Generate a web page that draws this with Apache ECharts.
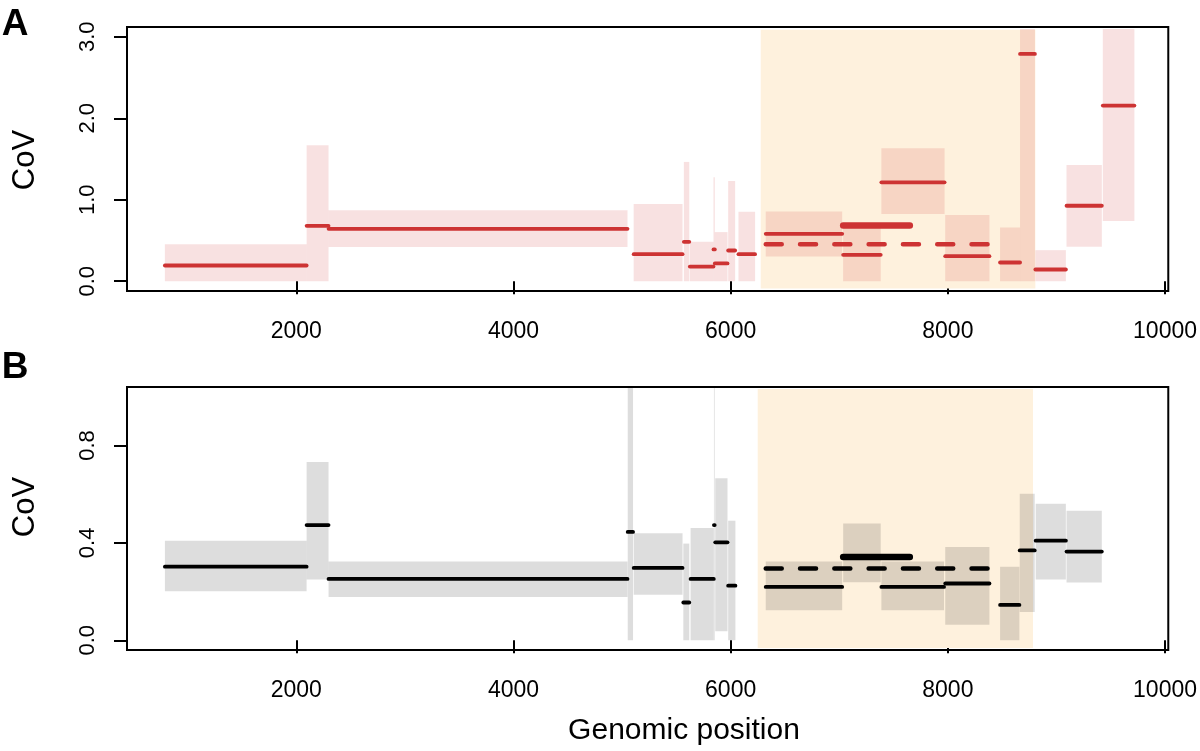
<!DOCTYPE html>
<html><head><meta charset="utf-8">
<script src="https://cdn.jsdelivr.net/npm/echarts@6/dist/echarts.min.js"></script>
<style>html,body{margin:0;padding:0;background:#fff}#chart{width:1200px;height:751px}</style>
</head><body><div id="chart"></div>
<script>
// ---- data ----
const X_TICKS = [2000, 4000, 6000, 8000, 10000];
const A_TICKS = [0, 1, 2, 3];
const B_TICKS = [0, 0.4, 0.8];

// Panel A segments
const A_START = [790, 2095, 2297, 5107, 5569, 5624, 5842, 5854, 5977, 6072, 6323, 7036, 7388, 7976, 8481, 8665, 8806, 9093, 9427];
const A_END   = [2095, 2297, 5050, 5557, 5619, 5842, 5854, 5971, 6041, 6225, 7027, 7382, 7970, 8383, 8665, 8802, 9087, 9418, 9718];
const A_LOW   = [0, 0, 0.42, 0, 0, 0, 0, 0, 0, 0, 0.304, 0, 0.824, 0, 0, 0, 0, 0.422, 0.738];
const A_HIGH  = [0.455, 1.67, 0.87, 0.947, 1.464, 0.484, 1.275, 0.603, 1.23, 0.853, 0.857, 0.70, 1.632, 0.812, 0.66, 3.095, 0.381, 1.427, 3.095];
const A_COV   = [0.193, 0.68, 0.643, 0.332, 0.484, 0.18, 0.39, 0.218, 0.377, 0.332, 0.582, 0.324, 1.214, 0.307, 0.23, 2.79, 0.144, 0.926, 2.156];
const A_REGION = [6277, 8806];
const A_DASHED = [6323, 8383, 0.455];
const A_THICK  = [7036, 7650, 0.685];

// Panel B segments
const B_START = [790, 2095, 2297, 5052, 5107, 5564, 5631, 5846, 5858, 5977, 6323, 7036, 7388, 7976, 8481, 8662, 8809, 9093];
const B_END   = [2095, 2297, 5050, 5101, 5557, 5619, 5845, 5853, 5971, 6044, 7027, 7382, 7965, 8383, 8659, 8800, 9087, 9418];
const B_LOW   = [0.201, 0.249, 0.178, 0, 0.187, 0, 0, 0, 0.037, 0, 0.123, 0.238, 0.123, 0.064, 0, 0.116, 0.25, 0.237];
const B_HIGH  = [0.409, 0.732, 0.323, 1.04, 0.439, 0.397, 0.461, 1.04, 0.665, 0.491, 0.323, 0.479, 0.323, 0.383, 0.302, 0.602, 0.561, 0.532];
const B_COV   = [0.302, 0.473, 0.252, 0.445, 0.297, 0.155, 0.252, 0.473, 0.402, 0.224, 0.219, 0.342, 0.219, 0.233, 0.145, 0.369, 0.409, 0.364];
const B_REGION = [6249, 8784];
const B_DASHED = [6323, 8383, 0.295];
const B_THICK  = [7036, 7650, 0.342];

// ---- styling ----
const FONT = "'Liberation Sans', Arial, Helvetica, sans-serif";
const RED = '#cd3333';
const RED_BAND = 'rgba(205,51,51,0.15)';
const GRAY_BAND = 'rgba(0,0,0,0.135)';
const HILITE = '#fef1dd';

function rectSeries(idx, data, color, z) {
  return {
    type: 'custom', xAxisIndex: idx, yAxisIndex: idx, z: z, silent: true, clip: true,
    data: data, encode: { x: [0, 1], y: [2, 3] },
    renderItem: function (params, api) {
      const p0 = api.coord([api.value(0), api.value(3)]);
      const p1 = api.coord([api.value(1), api.value(2)]);
      return { type: 'rect', shape: { x: p0[0], y: p0[1], width: p1[0] - p0[0], height: p1[1] - p0[1] },
        style: { fill: color } };
    }
  };
}
function lineSeries(idx, data, color, width, dash, z) {
  return {
    type: 'custom', xAxisIndex: idx, yAxisIndex: idx, z: z, silent: true,
    data: data, encode: { x: [0, 1], y: 2 },
    renderItem: function (params, api) {
      const p0 = api.coord([api.value(0), api.value(2)]);
      const p1 = api.coord([api.value(1), api.value(2)]);
      const st = { stroke: color, lineWidth: width, lineCap: 'round' };
      if (dash) st.lineDash = dash;
      return { type: 'line', shape: { x1: p0[0], y1: p0[1], x2: p1[0], y2: p1[1] }, style: st };
    }
  };
}

const segA = A_START.map((s, i) => [s, A_END[i], A_LOW[i], A_HIGH[i]]);
const segB = B_START.map((s, i) => [s, B_END[i], B_LOW[i], B_HIGH[i]]);
const covA = A_START.map((s, i) => [s, A_END[i], A_COV[i]]);
const covB = B_START.map((s, i) => [s, B_END[i], B_COV[i]]);

function xAxis(idx) {
  return {
    gridIndex: idx, type: 'value', min: 441, max: 10030,
    axisLine: { show: false }, splitLine: { show: false },
    axisTick: { show: true, length: 13, customValues: X_TICKS, lineStyle: { color: '#000', width: 2 } },
    axisLabel: { customValues: X_TICKS, fontSize: 23, color: '#000', margin: 29, fontFamily: FONT,
      formatter: v => String(v) }
  };
}
function yAxis(idx, min, max, ticks) {
  return {
    gridIndex: idx, type: 'value', min: min, max: max,
    axisLine: { show: false }, splitLine: { show: false },
    axisTick: { show: true, length: 13, customValues: ticks, lineStyle: { color: '#000', width: 2 } },
    axisLabel: { customValues: ticks, fontSize: 22, color: '#000', margin: 28, rotate: 90, fontFamily: FONT,
      formatter: v => v.toFixed(1) }
  };
}

const chart = echarts.init(document.getElementById('chart'));
chart.setOption({
  animation: false,
  backgroundColor: '#fff',
  grid: [
    { left: 127, top: 27, width: 1044, height: 264, show: true, borderColor: '#000', borderWidth: 2, backgroundColor: 'transparent' },
    { left: 127, top: 387, width: 1044, height: 263, show: true, borderColor: '#000', borderWidth: 2, backgroundColor: 'transparent' }
  ],
  xAxis: [xAxis(0), xAxis(1)],
  yAxis: [yAxis(0, -0.12, 3.12, A_TICKS), yAxis(1, -0.04, 1.04, B_TICKS)],
  series: [
    rectSeries(0, [[A_REGION[0], A_REGION[1], -0.088, 3.085]], HILITE, 1),
    rectSeries(0, segA, RED_BAND, 2),
    lineSeries(0, covA, RED, 3.8, null, 3),
    lineSeries(0, [A_DASHED], RED, 4.5, [16, 18.3], 3),
    lineSeries(0, [A_THICK], RED, 6.5, null, 3),
    rectSeries(1, [[B_REGION[0], B_REGION[1], -0.032, 1.032]], HILITE, 1),
    rectSeries(1, segB, GRAY_BAND, 2),
    lineSeries(1, covB, '#000', 3.8, null, 3),
    lineSeries(1, [B_DASHED], '#000', 4.5, [16, 18.3], 3),
    lineSeries(1, [B_THICK], '#000', 6.5, null, 3)
  ],
  graphic: [
    { type: 'text', x: 15, y: 25, z: 10, style: { text: 'A', font: "bold 37px " + FONT, fill: '#000', textAlign: 'center', textVerticalAlign: 'middle' } },
    { type: 'text', x: 15, y: 368, z: 10, style: { text: 'B', font: "bold 37px " + FONT, fill: '#000', textAlign: 'center', textVerticalAlign: 'middle' } },
    { type: 'text', x: 25, y: 160, rotation: Math.PI / 2, z: 10, style: { text: 'CoV', font: "31px " + FONT, fill: '#000', textAlign: 'center', textVerticalAlign: 'middle' } },
    { type: 'text', x: 25, y: 507, rotation: Math.PI / 2, z: 10, style: { text: 'CoV', font: "31px " + FONT, fill: '#000', textAlign: 'center', textVerticalAlign: 'middle' } },
    { type: 'text', x: 684, y: 731, z: 10, style: { text: 'Genomic position', font: "30px " + FONT, fill: '#000', textAlign: 'center', textVerticalAlign: 'middle' } }
  ]
});
</script></body></html>
